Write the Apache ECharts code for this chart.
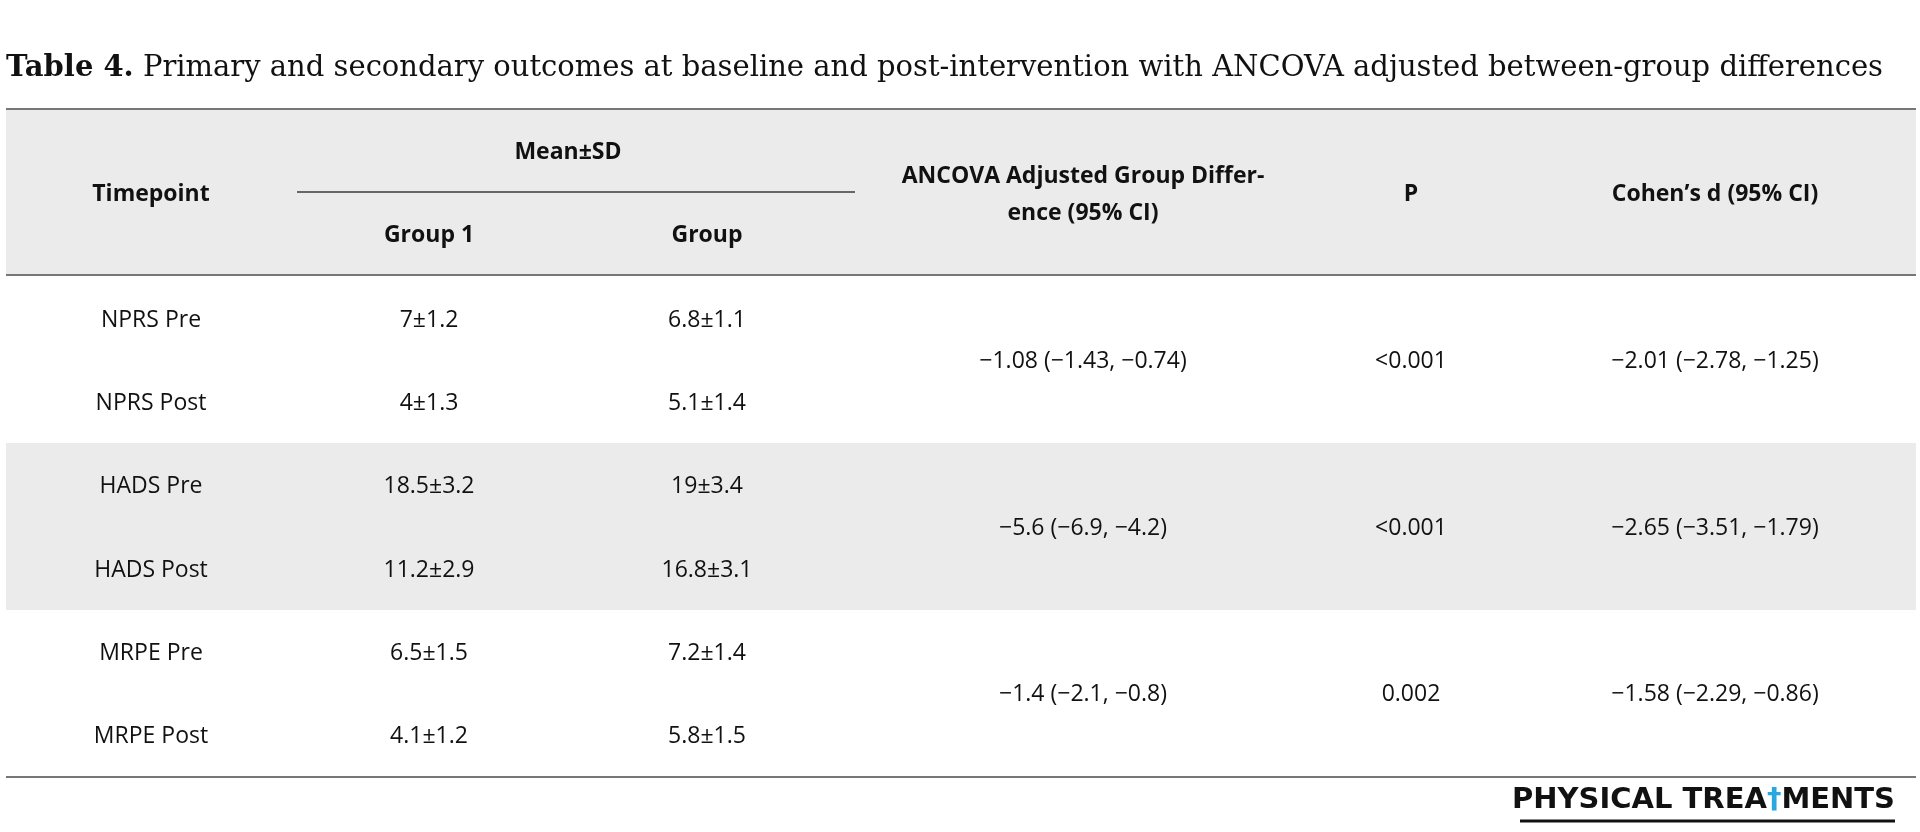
<!DOCTYPE html>
<html>
<head>
<meta charset="utf-8">
<script src="https://cdn.jsdelivr.net/npm/echarts@6/dist/echarts.min.js"></script>
<style>html,body{margin:0;padding:0;background:#fff}#main{width:1920px;height:832px}</style>
</head>
<body>
<div id="main"></div>
<script>
var titleBold = "Table 4.";
var titleText = " Primary and secondary outcomes at baseline and post-intervention with ANCOVA adjusted between-group differences";
var timepoints = ["NPRS Pre", "NPRS Post", "HADS Pre", "HADS Post", "MRPE Pre", "MRPE Post"];
var group1 = ["7±1.2", "4±1.3", "18.5±3.2", "11.2±2.9", "6.5±1.5", "4.1±1.2"];
var group2 = ["6.8±1.1", "5.1±1.4", "19±3.4", "16.8±3.1", "7.2±1.4", "5.8±1.5"];
var ancova = ["−1.08 (−1.43, −0.74)", "−5.6 (−6.9, −4.2)", "−1.4 (−2.1, −0.8)"];
var pValues = ["<0.001", "<0.001", "0.002"];
var cohens = ["−2.01 (−2.78, −1.25)", "−2.65 (−3.51, −1.79)", "−1.58 (−2.29, −0.86)"];

var chart = echarts.init(document.getElementById("main"));
var font = "'Open Sans', 'Noto Sans', sans-serif";
var colX = [151, 429, 707, 1083, 1411, 1715];
var rowY = [320, 403, 486, 570, 653, 736];
var g = [];

function txt(x, y, s, bold, size) {
  g.push({
    type: "text", x: x, y: y,
    style: { text: s, fill: "#111", font: (bold ? "bold " : "") + (size || 23) + "px " + font, align: "center", verticalAlign: "middle" }
  });
}
function hline(x1, x2, y, w, c) {
  g.push({ type: "line", shape: { x1: x1, y1: y, x2: x2, y2: y }, style: { stroke: c || "#777", lineWidth: w || 2 } });
}

// header background + shaded middle block
g.push({ type: "rect", shape: { x: 6, y: 109, width: 1910, height: 166 }, style: { fill: "#ebebeb" } });
g.push({ type: "rect", shape: { x: 6, y: 443, width: 1910, height: 167 }, style: { fill: "#ebebeb" } });
hline(6, 1916, 109);
hline(297, 855, 192, 2, "#666");
hline(6, 1916, 275);
hline(6, 1916, 777);

// title
g.push({
  type: "text", x: 6, y: 68,
  style: {
    text: "{b|" + titleBold + "}{n|" + titleText + "}", verticalAlign: "middle",
    rich: {
      b: { font: "bold 29px 'DejaVu Serif', serif", fill: "#111" },
      n: { font: "29px 'DejaVu Serif', serif", fill: "#111" }
    }
  }
});

// header
txt(colX[0], 194, "Timepoint", true);
txt((colX[1] + colX[2]) / 2, 152, "Mean±SD", true);
txt(colX[1], 235, "Group 1", true);
txt(colX[2], 235, "Group", true);
txt(colX[3], 176, "ANCOVA Adjusted Group Differ-", true);
txt(colX[3], 213, "ence (95% CI)", true);
txt(colX[4], 194, "P", true);
txt(colX[5], 194, "Cohen’s d (95% CI)", true);

// body
for (var i = 0; i < timepoints.length; i++) {
  txt(colX[0], rowY[i], timepoints[i]);
  txt(colX[1], rowY[i], group1[i]);
  txt(colX[2], rowY[i], group2[i]);
}
for (var k = 0; k < ancova.length; k++) {
  var my = (rowY[2 * k] + rowY[2 * k + 1]) / 2;
  txt(colX[3], my, ancova[k]);
  txt(colX[4], my, pValues[k]);
  txt(colX[5], my, cohens[k]);
}

// logo
g.push({
  type: "text", x: 1895, y: 800,
  style: {
    text: "{a|PHYSICAL TREA}{c|†}{a|MENTS}", align: "right", verticalAlign: "middle",
    rich: {
      a: { font: "bold 29px 'DejaVu Sans', sans-serif", fill: "#111" },
      c: { font: "bold 29px 'DejaVu Sans', sans-serif", fill: "#29a8e0" }
    }
  }
});
hline(1520, 1895, 821, 3, "#111");

chart.setOption({ animation: false, graphic: g });
</script>
</body>
</html>
